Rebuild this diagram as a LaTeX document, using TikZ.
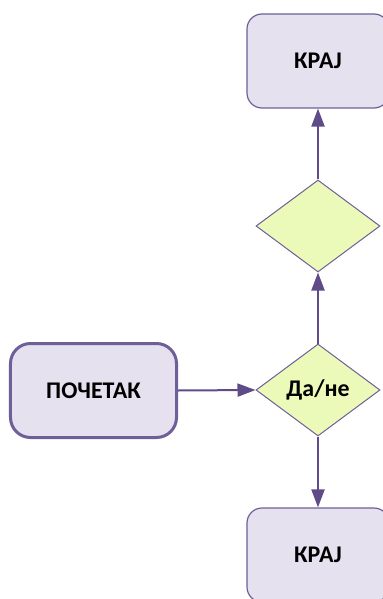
\documentclass[tikz,border=0pt]{standalone}
\usepackage{fontspec}
\setmainfont{Carlito}
\usetikzlibrary{shapes.geometric,arrows.meta}
\definecolor{boxfill}{HTML}{E6E1EF}
\definecolor{boxline}{HTML}{6E5F98}
\definecolor{decfill}{HTML}{EBFAB8}
\definecolor{arrowcol}{HTML}{5E4B88}
\tikzset{
  term/.style={rectangle, rounded corners=15bp, fill=boxfill, draw=boxline,
    line width=1.2bp, minimum width=142bp, minimum height=94bp,
    font=\fontsize{24}{28}\selectfont\bfseries},
  startbox/.style={term, rounded corners=20bp, line width=3bp,
    minimum width=166bp, minimum height=94bp},
  decision/.style={diamond, aspect=1.35, fill=decfill, draw=boxline,
    line width=1bp, inner sep=0pt, minimum width=124bp, minimum height=92bp,
    font=\fontsize{24}{28}\selectfont\bfseries},
  flow/.style={draw=arrowcol, line width=2bp,
    -{Triangle[length=18bp,width=13bp,fill=arrowcol]}}
}
\begin{document}
\begin{tikzpicture}[x=1bp,y=-1bp]
  \useasboundingbox (0,0) rectangle (382,599);
  \node[term] (krajtop) at (318,61) {КРАЈ};
  \node[decision] (choice) at (318,226) {};
  \node[decision] (dane) at (318,390) {Да/не};
  \node[startbox] (pocetak) at (93.5,390.5) {ПОЧЕТАК};
  \node[term] (krajbot) at (318,555) {КРАЈ};
  \draw[flow] (pocetak.east) -- (dane.west);
  \draw[flow] (dane.north) -- (choice.south);
  \draw[flow] (choice.north) -- (krajtop.south);
  \draw[flow] (dane.south) -- (krajbot.north);
\end{tikzpicture}
\end{document}
